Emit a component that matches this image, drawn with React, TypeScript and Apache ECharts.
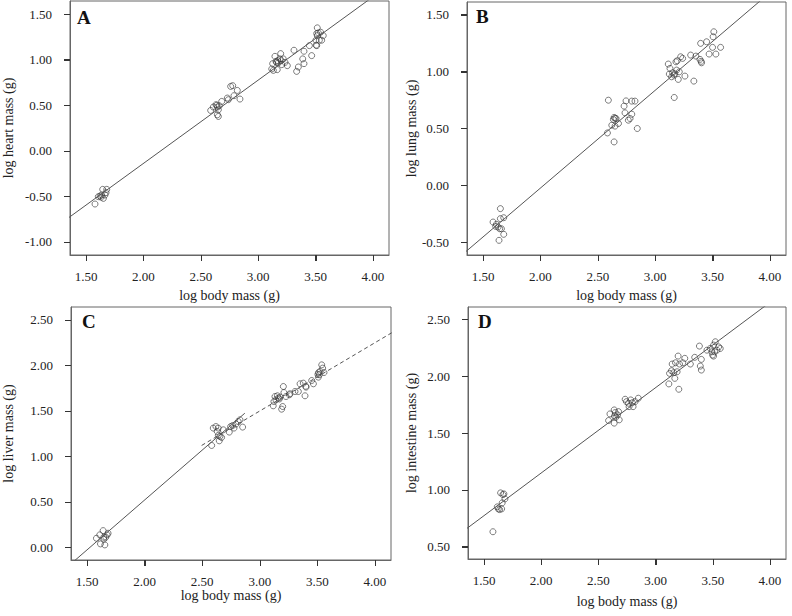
import React, { useEffect, useRef } from "react";
import * as echarts from "echarts";

// log body mass / organ mass pairs
const heartMass: number[][] = [
  [1.578, -0.585], [1.607, -0.504], [1.622, -0.497], [1.636, -0.486], [1.645, -0.424], [1.651, -0.523],
  [1.665, -0.486], [1.68, -0.424], [1.674, -0.46], [1.631, -0.51],
  [2.586, 0.443], [2.609, 0.48], [2.632, 0.506], [2.644, 0.48], [2.653, 0.45], [2.644, 0.395], [2.653, 0.377],
  [2.661, 0.494], [2.682, 0.542], [2.731, 0.579], [2.74, 0.561], [2.76, 0.707], [2.778, 0.715], [2.789, 0.605],
  [2.818, 0.663], [2.841, 0.568], [2.64, 0.5],
  [3.118, 0.899], [3.126, 0.957], [3.132, 0.883], [3.146, 1.037], [3.155, 0.982], [3.166, 0.891], [3.175, 0.965],
  [3.19, 1.009], [3.196, 1.067], [3.205, 0.946], [3.219, 1.009], [3.234, 0.971], [3.254, 0.935], [3.312, 1.104],
  [3.335, 0.872], [3.35, 0.92], [3.388, 1.009], [3.399, 1.093], [3.399, 0.957], [3.446, 1.155], [3.466, 1.045],
  [3.51, 1.155], [3.515, 1.265], [3.515, 1.35], [3.524, 1.295], [3.533, 1.214], [3.544, 1.302], [3.553, 1.214],
  [3.567, 1.265], [3.503, 1.214], [3.51, 1.288], [3.16, 0.97], [3.17, 0.99], [3.2, 0.99], [3.505, 1.16],
];

const lungMass: number[][] = [
  [1.587, -0.324], [1.616, -0.344], [1.631, -0.368], [1.639, -0.485], [1.651, -0.206], [1.651, -0.294],
  [1.645, -0.383], [1.66, -0.383], [1.68, -0.286], [1.68, -0.432], [1.61, -0.362],
  [2.592, 0.748], [2.584, 0.46], [2.622, 0.528], [2.636, 0.578], [2.642, 0.596], [2.659, 0.587], [2.642, 0.381],
  [2.68, 0.543], [2.65, 0.52], [2.729, 0.696], [2.737, 0.637], [2.746, 0.742], [2.766, 0.572], [2.781, 0.587],
  [2.796, 0.625], [2.796, 0.74], [2.824, 0.74], [2.844, 0.499], [2.65, 0.59],
  [3.114, 1.066], [3.123, 0.978], [3.129, 1.028], [3.143, 0.954], [3.152, 0.989], [3.163, 0.969], [3.166, 0.772],
  [3.181, 1.086], [3.187, 1.013], [3.192, 1.095], [3.201, 0.931], [3.21, 0.998], [3.222, 1.13], [3.239, 1.116],
  [3.259, 0.96], [3.309, 1.145], [3.337, 0.916], [3.355, 1.136], [3.39, 1.107], [3.404, 1.077], [3.396, 1.248],
  [3.448, 1.262], [3.47, 1.154], [3.5, 1.213], [3.505, 1.306], [3.511, 1.35], [3.529, 1.154], [3.57, 1.213],
  [3.4, 1.09], [3.17, 0.98],
];

const liverMass: number[][] = [
  [1.581, 0.099], [1.61, 0.136], [1.616, 0.037], [1.639, 0.183], [1.645, 0.11], [1.654, 0.026], [1.662, 0.11],
  [1.674, 0.136], [1.682, 0.154], [1.645, 0.088],
  [2.582, 1.119], [2.596, 1.31], [2.619, 1.327], [2.63, 1.273], [2.639, 1.31], [2.648, 1.17], [2.654, 1.218],
  [2.668, 1.207], [2.683, 1.291], [2.735, 1.266], [2.747, 1.327], [2.764, 1.338], [2.776, 1.31], [2.793, 1.354],
  [2.813, 1.382], [2.828, 1.401], [2.851, 1.321], [2.64, 1.23],
  [3.117, 1.555], [3.123, 1.602], [3.132, 1.657], [3.153, 1.665], [3.161, 1.64], [3.176, 1.65], [3.19, 1.518],
  [3.199, 1.547], [3.205, 1.767], [3.21, 1.701], [3.228, 1.657], [3.257, 1.676], [3.306, 1.712], [3.335, 1.712],
  [3.35, 1.797], [3.393, 1.665], [3.402, 1.76], [3.466, 1.797], [3.378, 1.804], [3.451, 1.833], [3.509, 1.87],
  [3.517, 1.896], [3.523, 1.932], [3.538, 2.005], [3.546, 1.969], [3.558, 1.921], [3.505, 1.9], [3.51, 1.92],
  [3.14, 1.62], [3.17, 1.63], [3.262, 1.687], [3.4, 1.77],
];

const intestineMass: number[][] = [
  [1.578, 0.632], [1.616, 0.851], [1.625, 0.833], [1.636, 0.827], [1.645, 0.974], [1.654, 0.833], [1.659, 0.886],
  [1.665, 0.959], [1.674, 0.965], [1.683, 0.921],
  [2.589, 1.611], [2.601, 1.669], [2.638, 1.704], [2.647, 1.681], [2.653, 1.64], [2.667, 1.66], [2.682, 1.617],
  [2.638, 1.588], [2.676, 1.689], [2.64, 1.65], [2.734, 1.798], [2.745, 1.777], [2.763, 1.763], [2.783, 1.792],
  [2.797, 1.768], [2.803, 1.733], [2.821, 1.777], [2.849, 1.807], [2.768, 1.733],
  [3.116, 1.933], [3.122, 2.026], [3.139, 2.049], [3.145, 2.108], [3.159, 2.032], [3.168, 1.982], [3.174, 2.119],
  [3.188, 2.04], [3.197, 2.178], [3.203, 1.886], [3.209, 2.108], [3.238, 2.119], [3.255, 2.158], [3.304, 2.108],
  [3.342, 2.167], [3.383, 2.266], [3.4, 2.149], [3.391, 2.09], [3.4, 2.055], [3.449, 2.23], [3.478, 2.245],
  [3.507, 2.275], [3.498, 2.187], [3.516, 2.216], [3.522, 2.304], [3.536, 2.23], [3.551, 2.259], [3.565, 2.245],
  [3.492, 2.216], [3.507, 2.178],
];

// fitted lines: [intercept, slope, xFrom, xTo, dashed]
const heartFit = [[-1.969, 0.915, 1.3, 4.2, 0]];
const lungFit = [[-1.745, 0.86, 1.3, 4.2, 0]];
const liverFit = [[-1.672, 1.096, 1.3, 2.87, 0], [-0.752, 0.75, 2.495, 4.2, 1]];
const intestineFit = [[-0.353, 0.751, 1.3, 4.2, 0]];

const xTicks = [1.5, 2, 2.5, 3, 3.5, 4];
const heartTicks = [-1, -0.5, 0, 0.5, 1, 1.5];
const lungTicks = [-0.5, 0, 0.5, 1, 1.5];
const liverTicks = [0, 0.5, 1, 1.5, 2, 2.5];
const intestineTicks = [0.5, 1, 1.5, 2, 2.5];

const panelLetters = ["A", "B", "C", "D"];
const yNames = ["log heart mass (g)", "log lung mass (g)", "log liver mass (g)", "log intestine mass (g)"];
const xName = "log body mass (g)";

const FONT = "'Liberation Serif', 'Times New Roman', serif";
const TICK_LEN = 6;
const TICK_COLOR = "#333";

export default function App() {
  const ref = useRef<HTMLDivElement>(null);
  useEffect(() => {
    if (!ref.current) return;
    const chart = echarts.init(ref.current, null, { renderer: "svg" });
    const data = [heartMass, lungMass, liverMass, intestineMass];
    const fits = [heartFit, lungFit, liverFit, intestineFit];
    const yTicks = [heartTicks, lungTicks, liverTicks, intestineTicks];
    const xRange = [1.36, 4.14];
    const yRanges = [[-1.145, 1.645], [-0.614, 1.612], [-0.14, 2.641], [0.392, 2.61]];
    const grids = [
      { left: 70, top: 1, width: 319, height: 254 },
      { left: 467, top: 2, width: 319, height: 253 },
      { left: 71, top: 307, width: 320, height: 253 },
      { left: 468, top: 307, width: 318, height: 252 },
    ];
    const xGaps = [33, 33, 27, 35];
    const yGaps = [55, 49, 56, 50];
    const letterPos = [[77, 8], [476, 7], [82, 312], [478, 312]];

    const axisLabel = { fontFamily: FONT, fontSize: 13, color: "#222" };
    const series: any[] = [];
    data.forEach((pts, i) => {
      series.push({
        type: "scatter",
        xAxisIndex: i,
        yAxisIndex: i,
        data: pts,
        symbol: "circle",
        symbolSize: 6,
        itemStyle: { color: "rgba(255,255,255,0)", borderColor: "#333", borderWidth: 0.8 },
        silent: true,
      });
      fits[i].forEach((f) => {
        const [a, b, x0, x1, dashed] = f;
        series.push({
          type: "line",
          xAxisIndex: i,
          yAxisIndex: i,
          data: [[x0, a + b * x0], [x1, a + b * x1]],
          symbol: "none",
          clip: true,
          silent: true,
          lineStyle: { color: "#555", width: 1, type: dashed ? [4, 3] : "solid" },
        });
      });
    });

    const letters = panelLetters.map((t, i) => ({
      type: "text",
      left: letterPos[i][0],
      top: letterPos[i][1],
      style: { text: t, fontFamily: FONT, fontSize: 19, fontWeight: "bold", fill: "#111" },
    }));

    chart.setOption({
      animation: false,
      grid: grids.map((g) => ({ ...g, show: true, borderColor: "#666", borderWidth: 1, containLabel: false })),
      xAxis: grids.map((_, i) => ({
        type: "value",
        gridIndex: i,
        position: "bottom",
        min: xRange[0],
        max: xRange[1],
        name: xName,
        nameLocation: "middle",
        nameGap: xGaps[i],
        nameTextStyle: { fontFamily: FONT, fontSize: 14, color: "#222" },
        axisLine: { show: true, onZero: false, lineStyle: { color: "#666" } },
        axisTick: { show: true, inside: true, length: -TICK_LEN, customValues: xTicks, lineStyle: { color: TICK_COLOR } },
        axisLabel: { ...axisLabel, margin: 15, customValues: xTicks, formatter: (v: number) => v.toFixed(2) },
        splitLine: { show: false },
      })),
      yAxis: grids.map((_, i) => ({
        type: "value",
        gridIndex: i,
        position: "left",
        min: yRanges[i][0],
        max: yRanges[i][1],
        name: yNames[i],
        nameLocation: "middle",
        nameRotate: 90,
        nameGap: yGaps[i],
        nameTextStyle: { fontFamily: FONT, fontSize: 14, color: "#222" },
        axisLine: { show: true, onZero: false, lineStyle: { color: "#666" } },
        axisTick: { show: true, inside: true, length: -TICK_LEN, customValues: yTicks[i], lineStyle: { color: TICK_COLOR } },
        axisLabel: { ...axisLabel, margin: 18, customValues: yTicks[i], formatter: (v: number) => v.toFixed(2) },
        splitLine: { show: false },
      })),
      graphic: letters,
      series,
    });

    // outward tick marks, positioned through each axis' own scale
    const ticks: any[] = [];
    grids.forEach((_, i) => {
      const yBottom = Number(chart.convertToPixel({ yAxisIndex: i } as any, yRanges[i][0]));
      const xLeft = Number(chart.convertToPixel({ xAxisIndex: i } as any, xRange[0]));
      xTicks.forEach((v) => {
        const px = Number(chart.convertToPixel({ xAxisIndex: i } as any, v));
        if (!isFinite(px) || !isFinite(yBottom)) return;
        const x = Math.round(px) + 0.5;
        ticks.push({
          type: "polyline",
          silent: true,
          z: 100,
          shape: { points: [[x, yBottom], [x, yBottom + TICK_LEN]] },
          style: { stroke: TICK_COLOR, lineWidth: 1, fill: "none" },
        });
      });
      yTicks[i].forEach((v) => {
        const py = Number(chart.convertToPixel({ yAxisIndex: i } as any, v));
        if (!isFinite(py) || !isFinite(xLeft)) return;
        const y = Math.round(py) + 0.5;
        ticks.push({
          type: "polyline",
          silent: true,
          z: 100,
          shape: { points: [[xLeft, y], [xLeft - TICK_LEN, y]] },
          style: { stroke: TICK_COLOR, lineWidth: 1, fill: "none" },
        });
      });
    });
    chart.setOption({ graphic: [...letters, ...ticks] });

    return () => chart.dispose();
  }, []);
  return (
    <div
      ref={ref}
      style={{ position: "absolute", left: 0, top: 0, width: 792, height: 616, background: "#fff" }}
    />
  );
}
